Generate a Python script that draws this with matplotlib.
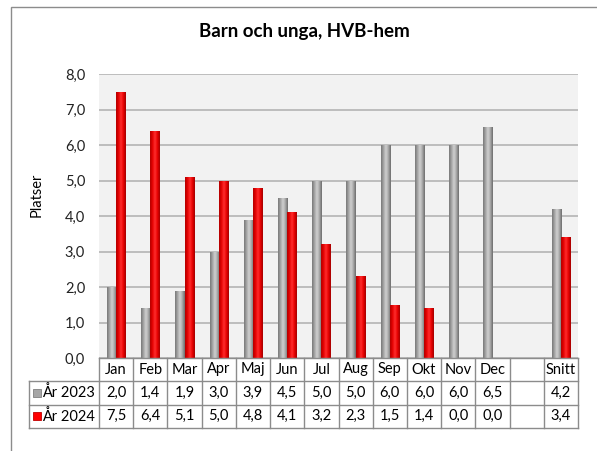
import numpy as np
import matplotlib.pyplot as plt
from matplotlib.transforms import blended_transform_factory
from matplotlib.colors import LinearSegmentedColormap
from matplotlib.patches import Rectangle
from matplotlib.lines import Line2D
from matplotlib.ticker import FuncFormatter

plt.rcParams['font.family'] = ['Lato', 'DejaVu Sans']

# data
months = ['Jan', 'Feb', 'Mar', 'Apr', 'Maj', 'Jun', 'Jul', 'Aug', 'Sep', 'Okt', 'Nov', 'Dec', '', 'Snitt']
ar2023 = [2.0, 1.4, 1.9, 3.0, 3.9, 4.5, 5.0, 5.0, 6.0, 6.0, 6.0, 6.5, np.nan, 4.2]
ar2024 = [7.5, 6.4, 5.1, 5.0, 4.8, 4.1, 3.2, 2.3, 1.5, 1.4, 0.0, 0.0, np.nan, 3.4]
series = ['År 2023', 'År 2024']

W, H = 597, 451
fig = plt.figure(figsize=(W / 100, H / 100), dpi=100)
L, R, T, B = 99, 578, 74, 358
ax = fig.add_axes([L / W, 1 - B / H, (R - L) / W, (B - T) / H])

def fy(p):
    return 1 - p / H

x = np.arange(len(months))
bw = 0.27
gray_cm = LinearSegmentedColormap.from_list('g', ['#777777', '#a4a4a4', '#d2d2d2', '#a8a8a8', '#6a6a6a'])
red_cm = LinearSegmentedColormap.from_list('r', ['#b00000', '#e60000', '#ff3030', '#ea0000', '#a00000'])
grad = np.linspace(0, 1, 64).reshape(1, -1)

bars1 = ax.bar(x - bw / 2, np.nan_to_num(ar2023), bw, color='#a6a6a6', zorder=3)
bars2 = ax.bar(x + bw / 2, np.nan_to_num(ar2024), bw, color='#ff0000', zorder=3)
for bars, cm in [(bars1, gray_cm), (bars2, red_cm)]:
    for b in bars:
        h = b.get_height()
        if h <= 0:
            b.set_visible(False)
            continue
        x0 = b.get_x()
        im = ax.imshow(grad, cmap=cm, extent=(x0, x0 + b.get_width(), 0, h),
                       aspect='auto', zorder=4, interpolation='bicubic')
        im.set_clip_path(b)

ax.set_xlim(-0.5, len(months) - 0.5)
ax.set_ylim(0, 8)
ax.set_facecolor('#f2f2f2')
ax.set_yticks(np.arange(0, 9, 1))
ax.yaxis.set_major_formatter(FuncFormatter(lambda v, p: f'{v:.1f}'.replace('.', ',')))
ax.tick_params(axis='y', length=0, pad=10, labelsize=10.5, labelcolor='#222222')
ax.set_xticks([])
ax.yaxis.grid(True, color='#b4b4b4', lw=1.2)
ax.set_axisbelow(True)
for s in ax.spines.values():
    s.set_visible(False)

fig.text(304 / W, fy(32), 'Barn och unga, HVB-hem', ha='center', va='center',
         fontsize=13.5, fontweight='bold')
fig.text(37 / W, fy(195), 'Platser', rotation=90, ha='center', va='center', fontsize=10.5)

# data table
tr = blended_transform_factory(ax.transData, fig.transFigure)
colw = (R - L) / len(months)
xleft = -0.5 - (L - 29) / colw
rows = [358, 381, 404.5, 428]
lc = '#8c8c8c'
fig.add_artist(Line2D([-0.5, len(months) - 0.5], [fy(rows[0])] * 2, transform=tr, color=lc, lw=1))
for r in rows[1:]:
    fig.add_artist(Line2D([xleft, len(months) - 0.5], [fy(r)] * 2, transform=tr, color=lc, lw=1))
for k in range(len(months) + 1):
    fig.add_artist(Line2D([k - 0.5] * 2, [fy(rows[0]), fy(rows[3])], transform=tr, color=lc, lw=1))
fig.add_artist(Line2D([xleft] * 2, [fy(rows[1]), fy(rows[3])], transform=tr, color=lc, lw=1))

for i, m in enumerate(months):
    fig.text(i, fy((rows[0] + rows[1]) / 2), m, transform=tr, ha='center', va='center', fontsize=10.5)
for vals, r0, r1 in [(ar2023, rows[1], rows[2]), (ar2024, rows[2], rows[3])]:
    for i, v in enumerate(vals):
        if np.isnan(v):
            continue
        fig.text(i, fy((r0 + r1) / 2), f'{v:.1f}'.replace('.', ','), transform=tr,
                 ha='center', va='center', fontsize=10.5)

for name, col, ec, r0, r1 in [(series[0], '#a6a6a6', '#808080', rows[1], rows[2]),
                              (series[1], '#ff0000', '#c00000', rows[2], rows[3])]:
    yc = (r0 + r1) / 2
    fig.add_artist(Rectangle((33 / W, fy(yc + 4)), 8 / W, 8 / H, transform=fig.transFigure,
                             facecolor=col, edgecolor=ec, lw=0.6))
    fig.text(42 / W, fy(yc), name, ha='left', va='center', fontsize=10.5)

# outer frame
fig.add_artist(Rectangle((11 / W, -0.1), 1.2, fy(7) + 0.1, transform=fig.transFigure,
                         fill=False, edgecolor='#8c8c8c', lw=1))

fig.savefig('out.png', dpi=100)
